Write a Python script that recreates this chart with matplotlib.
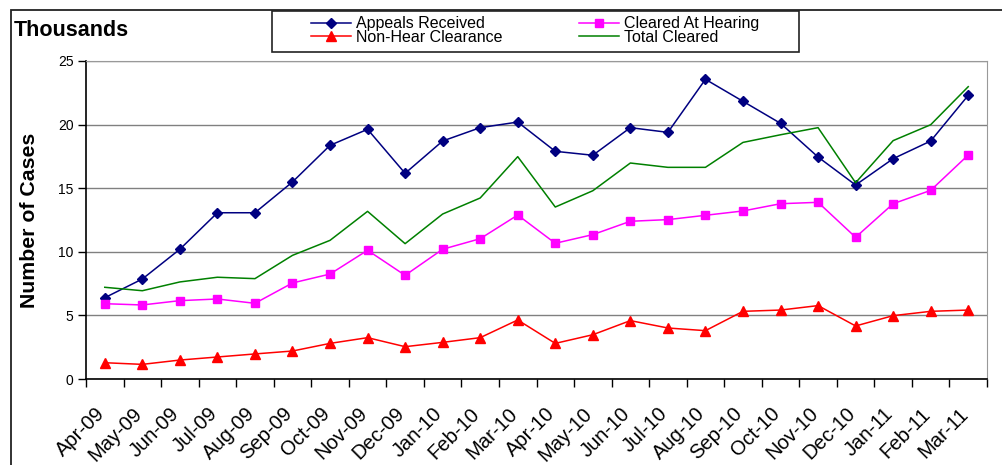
import numpy as np
import matplotlib
matplotlib.use("Agg")
from matplotlib import pyplot as plt
from matplotlib.patches import Rectangle
from matplotlib.transforms import ScaledTranslation

plt.rcParams["font.family"] = ["Liberation Sans", "DejaVu Sans"]

months = ["Apr-09", "May-09", "Jun-09", "Jul-09", "Aug-09", "Sep-09", "Oct-09", "Nov-09",
          "Dec-09", "Jan-10", "Feb-10", "Mar-10", "Apr-10", "May-10", "Jun-10", "Jul-10",
          "Aug-10", "Sep-10", "Oct-10", "Nov-10", "Dec-10", "Jan-11", "Feb-11", "Mar-11"]

appeals_received = [6.39, 7.86, 10.2, 13.07, 13.07, 15.49, 18.37, 19.63, 16.17, 18.71, 19.76, 20.2,
                    17.9, 17.59, 19.76, 19.39, 23.56, 21.83, 20.1, 17.45, 15.25, 17.32, 18.71, 22.3]
cleared_at_hearing = [5.92, 5.82, 6.16, 6.29, 5.95, 7.55, 8.25, 10.12, 8.15, 10.2, 11.03, 12.89,
                      10.67, 11.35, 12.4, 12.53, 12.87, 13.21, 13.78, 13.89, 11.14, 13.78, 14.83, 17.61]
non_hear_clearance = [1.28, 1.15, 1.49, 1.73, 1.97, 2.2, 2.8, 3.25, 2.54, 2.88, 3.25, 4.64,
                      2.8, 3.48, 4.59, 4.01, 3.8, 5.32, 5.42, 5.77, 4.17, 4.98, 5.32, 5.42]
total_cleared = [7.21, 6.94, 7.63, 8.0, 7.89, 9.72, 10.9, 13.18, 10.64, 12.97, 14.23, 17.48,
                 13.52, 14.8, 16.98, 16.64, 16.64, 18.6, 19.2, 19.76, 15.43, 18.74, 19.99, 22.98]

W, H = 1002, 465
fig = plt.figure(figsize=(W / 100, H / 100), dpi=100)
fig.patch.set_facecolor("white")

# outer chart-area frame (runs off the right and bottom of the picture)
fig.patches.append(Rectangle((11 / W, -0.2), 1.2, (1 - 10 / H) + 0.2,
                             transform=fig.transFigure, fill=False,
                             edgecolor="#222222", lw=1.3))

ax = fig.add_axes([86 / W, 1 - 379 / H, (987 - 86) / W, (379 - 61) / H])
x = np.arange(len(months))

l1, = ax.plot(x, appeals_received, color="#000080", lw=1.1, marker="D", ms=5,
              label="Appeals Received")
l2, = ax.plot(x, non_hear_clearance, color="#ff0000", lw=1.1, marker="^", ms=7,
              label="Non-Hear Clearance")
l3, = ax.plot(x, cleared_at_hearing, color="#ff00ff", lw=1.1, marker="s", ms=5.5,
              label="Cleared At Hearing")
l4, = ax.plot(x, total_cleared, color="#008000", lw=1.1, label="Total Cleared")

ax.set_xlim(-0.5, len(months) - 0.5)
ax.set_ylim(0, 25)
ax.set_yticks([0, 5, 10, 15, 20, 25])
ax.yaxis.grid(True, color="#808080", lw=1)
ax.set_axisbelow(True)

ax.set_xticks(x)
ax.set_xticklabels(months, rotation=45, ha="right", va="top", rotation_mode="anchor",
                   fontsize=14.5)
ax.set_xticks(np.arange(-0.5, len(months)), minor=True)
ax.tick_params(axis="x", which="major", length=0, pad=18)
ax.tick_params(axis="x", which="minor", length=6, direction="out", width=1, color="black")
ax.tick_params(axis="y", length=6, direction="out", width=1, labelsize=10, pad=3)
shift = ScaledTranslation(-10 / 100, 0, fig.dpi_scale_trans)
for lab in ax.get_xticklabels():
    lab.set_transform(lab.get_transform() + shift)

for side in ["top", "right"]:
    ax.spines[side].set_color("#999999")
for side in ["left", "bottom"]:
    ax.spines[side].set_color("black")
    ax.spines[side].set_linewidth(1.2)

fig.text(14 / W, 1 - 30 / H, "Thousands", fontsize=15.5, fontweight="bold", va="center")
fig.text(30 / W, 1 - 220 / H, "Number of Cases", fontsize=15.3, fontweight="bold",
         rotation=90, ha="center", va="center")

# legend box
fig.patches.append(Rectangle((272 / W, 1 - 52 / H), (799 - 272) / W, (52 - 11.5) / H,
                             transform=fig.transFigure, fill=False, edgecolor="#222222",
                             lw=1.2))
leg = fig.legend(handles=[l1, l2, l3, l4], ncol=2, loc="center",
                 bbox_to_anchor=(535 / W, 1 - 30.5 / H), frameon=False,
                 fontsize=11.5, handlelength=2.5, handletextpad=0.3,
                 columnspacing=4.8, labelspacing=-0.08, borderpad=0)

fig.savefig("out.png", dpi=100)
